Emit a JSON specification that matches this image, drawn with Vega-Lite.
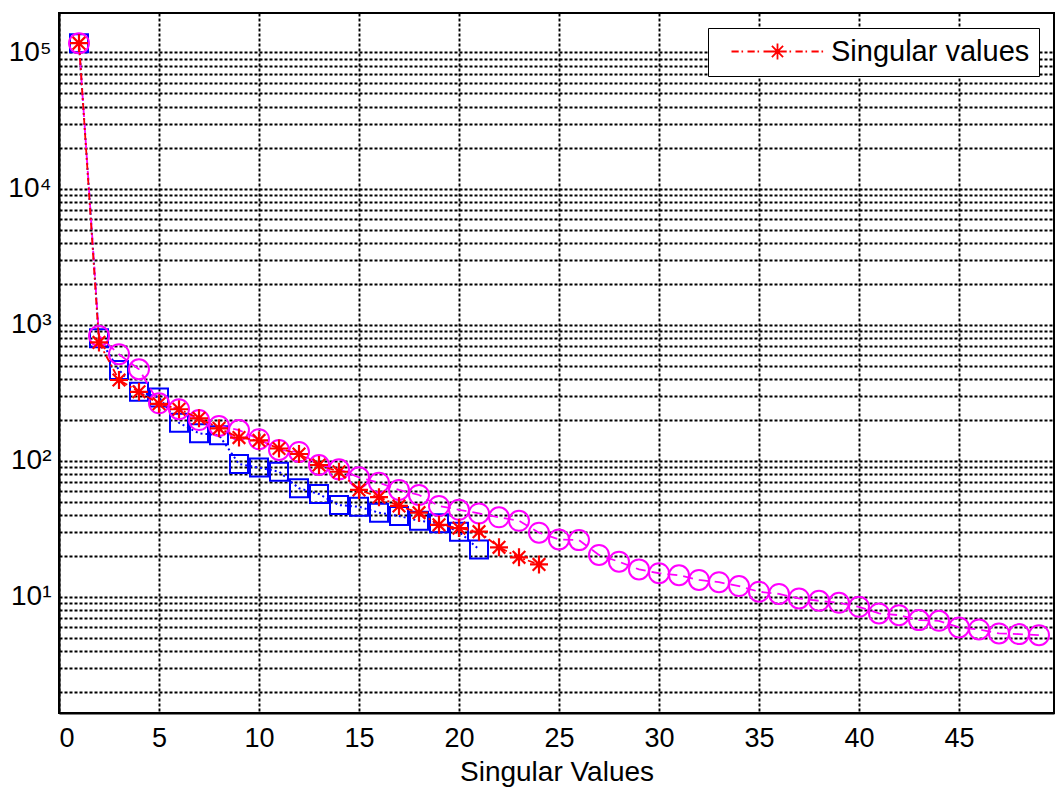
{
  "$schema": "https://vega.github.io/schema/vega-lite/v6.json",
  "width": 995,
  "height": 700,
  "autosize": {"type": "none"},
  "padding": {"left": 59, "top": 13, "right": 1, "bottom": 74},
  "background": "white",
  "config": {
    "font": "Liberation Sans",
    "view": {"stroke": "black", "strokeWidth": 2},
    "axis": {
      "gridColor": "black", "gridDash": [3, 2], "gridWidth": 1.9, "gridOpacity": 1,
      "domainColor": "black", "domainWidth": 2,
      "labelColor": "black", "labelFont": "Liberation Sans",
      "titleFont": "Liberation Sans", "titleColor": "black", "titleFontWeight": "normal"
    }
  },
  "datasets": {
    "blue": [
      {"x": 1, "y": 117000}, {"x": 2, "y": 795}, {"x": 3, "y": 464}, {"x": 4, "y": 321},
      {"x": 5, "y": 292}, {"x": 6, "y": 190}, {"x": 7, "y": 159}, {"x": 8, "y": 154},
      {"x": 9, "y": 94.6}, {"x": 10, "y": 89}, {"x": 11, "y": 83}, {"x": 12, "y": 62.7},
      {"x": 13, "y": 56.9}, {"x": 14, "y": 47.2}, {"x": 15, "y": 45.9}, {"x": 16, "y": 41.5},
      {"x": 17, "y": 39.2}, {"x": 18, "y": 36.2}, {"x": 19, "y": 34.7}, {"x": 20, "y": 30.1},
      {"x": 21, "y": 22.3}
    ],
    "magenta": [
      {"x": 1, "y": 117000}, {"x": 2, "y": 826}, {"x": 3, "y": 606}, {"x": 4, "y": 470},
      {"x": 5, "y": 264}, {"x": 6, "y": 239}, {"x": 7, "y": 199}, {"x": 8, "y": 180},
      {"x": 9, "y": 168}, {"x": 10, "y": 144}, {"x": 11, "y": 120}, {"x": 12, "y": 116},
      {"x": 13, "y": 93}, {"x": 14, "y": 86.4}, {"x": 15, "y": 75.5}, {"x": 16, "y": 68.9},
      {"x": 17, "y": 61}, {"x": 18, "y": 56}, {"x": 19, "y": 46.5}, {"x": 20, "y": 43.6},
      {"x": 21, "y": 41}, {"x": 22, "y": 38.4}, {"x": 23, "y": 36.2}, {"x": 24, "y": 29.6},
      {"x": 25, "y": 26.4}, {"x": 26, "y": 26.1}, {"x": 27, "y": 20.3}, {"x": 28, "y": 18.1},
      {"x": 29, "y": 15.9}, {"x": 30, "y": 14.9}, {"x": 31, "y": 14.4}, {"x": 32, "y": 13.3},
      {"x": 33, "y": 12.8}, {"x": 34, "y": 12.0}, {"x": 35, "y": 10.9}, {"x": 36, "y": 10.5},
      {"x": 37, "y": 9.73}, {"x": 38, "y": 9.35}, {"x": 39, "y": 9.04}, {"x": 40, "y": 8.44},
      {"x": 41, "y": 7.55}, {"x": 42, "y": 7.33}, {"x": 43, "y": 6.74}, {"x": 44, "y": 6.66},
      {"x": 45, "y": 5.96}, {"x": 46, "y": 5.76}, {"x": 47, "y": 5.38}, {"x": 48, "y": 5.32},
      {"x": 49, "y": 5.22}
    ],
    "red": [
      {"x": 1, "y": 117000, "s": "Singular values"}, {"x": 2, "y": 740, "s": "Singular values"},
      {"x": 3, "y": 392, "s": "Singular values"}, {"x": 4, "y": 321, "s": "Singular values"},
      {"x": 5, "y": 262, "s": "Singular values"}, {"x": 6, "y": 239, "s": "Singular values"},
      {"x": 7, "y": 205, "s": "Singular values"}, {"x": 8, "y": 173, "s": "Singular values"},
      {"x": 9, "y": 148, "s": "Singular values"}, {"x": 10, "y": 141, "s": "Singular values"},
      {"x": 11, "y": 123, "s": "Singular values"}, {"x": 12, "y": 112, "s": "Singular values"},
      {"x": 13, "y": 93, "s": "Singular values"}, {"x": 14, "y": 83, "s": "Singular values"},
      {"x": 15, "y": 61, "s": "Singular values"}, {"x": 16, "y": 54, "s": "Singular values"},
      {"x": 17, "y": 46.5, "s": "Singular values"}, {"x": 18, "y": 41.5, "s": "Singular values"},
      {"x": 19, "y": 33.8, "s": "Singular values"}, {"x": 20, "y": 32, "s": "Singular values"},
      {"x": 21, "y": 30.1, "s": "Singular values"}, {"x": 22, "y": 23.1, "s": "Singular values"},
      {"x": 23, "y": 19.5, "s": "Singular values"}, {"x": 24, "y": 17.3, "s": "Singular values"}
    ]
  },
  "layer": [
    {
      "data": {"name": "blue"},
      "mark": {"type": "line", "color": "#0000ff", "strokeDash": [2, 3], "strokeWidth": 2, "clip": true},
      "encoding": {
        "x": {
          "field": "x", "type": "quantitative",
          "scale": {"domain": [0, 49.75], "nice": false, "zero": false},
          "axis": {
            "values": [0, 5, 10, 15, 20, 25, 30, 35, 40, 45],
            "grid": true, "ticks": false, "labelFontSize": 27, "labelPadding": 12,
            "title": "Singular Values", "titleFontSize": 28, "titlePadding": 7,
            "labelOverlap": false, "labelBound": false
          }
        },
        "y": {
          "field": "y", "type": "quantitative",
          "scale": {"type": "log", "domain": [1.4, 195000], "nice": false},
          "axis": {
            "values": [2, 3, 4, 5, 6, 7, 8, 9, 10, 20, 30, 40, 50, 60, 70, 80, 90, 100, 200, 300, 400, 500, 600, 700, 800, 900, 1000, 2000, 3000, 4000, 5000, 6000, 7000, 8000, 9000, 10000, 20000, 30000, 40000, 50000, 60000, 70000, 80000, 90000, 100000],
            "labelExpr": "abs(log(datum.value)/LN10 - round(log(datum.value)/LN10)) < 0.001 ? '10' + ['⁰','¹','²','³','⁴','⁵','⁶'][round(log(datum.value)/LN10)] : ''",
            "grid": true, "ticks": false, "labelFontSize": 28, "labelPadding": 8, "labelDy": 3,
            "title": null, "labelOverlap": false, "labelBound": false
          }
        }
      }
    },
    {
      "data": {"name": "blue"},
      "mark": {"type": "point", "shape": "square", "size": 324, "filled": false, "color": "#0000ff", "strokeWidth": 2, "opacity": 1, "clip": true},
      "encoding": {"x": {"field": "x", "type": "quantitative"}, "y": {"field": "y", "type": "quantitative"}}
    },
    {
      "data": {"name": "magenta"},
      "mark": {"type": "line", "color": "#ff00ff", "strokeDash": [10, 6], "strokeWidth": 1.8, "clip": true},
      "encoding": {"x": {"field": "x", "type": "quantitative"}, "y": {"field": "y", "type": "quantitative"}}
    },
    {
      "data": {"name": "magenta"},
      "mark": {"type": "point", "shape": "circle", "size": 400, "filled": false, "color": "#ff00ff", "strokeWidth": 2, "opacity": 1, "clip": true},
      "encoding": {"x": {"field": "x", "type": "quantitative"}, "y": {"field": "y", "type": "quantitative"}}
    },
    {
      "data": {"name": "red"},
      "mark": {"type": "line", "color": "#ff0000", "strokeDash": [7, 3, 2, 3], "strokeWidth": 1.8, "clip": true},
      "encoding": {"x": {"field": "x", "type": "quantitative"}, "y": {"field": "y", "type": "quantitative"}}
    },
    {
      "data": {"name": "red"},
      "mark": {"type": "point", "shape": "M-1,0L1,0M0,-1L0,1M-0.7,-0.7L0.7,0.7M-0.7,0.7L0.7,-0.7", "size": 324, "filled": false, "strokeWidth": 2.2, "opacity": 1, "clip": true},
      "encoding": {
        "x": {"field": "x", "type": "quantitative"},
        "y": {"field": "y", "type": "quantitative"},
        "color": {
          "field": "s", "type": "nominal",
          "scale": {"domain": ["Singular values"], "range": ["#ff0000"]},
          "legend": {
            "title": null, "orient": "none", "legendX": 649, "legendY": 15,
            "symbolType": "M-5.75,0L-4.85,0M-4.5,0L-4.3,0M-3.75,0L-2.85,0M-2.5,0L-2.3,0M-1.75,0L-0.85,0M0.25,0L1.15,0M1.5,0L1.7,0M2.25,0L3.15,0M3.5,0L3.7,0M4.25,0L5.15,0M5.5,0L5.7,0M-1,0L1,0M0,-1L0,1M-0.7,-0.7L0.7,0.7M-0.7,0.7L0.7,-0.7",
            "symbolSize": 256, "symbolStrokeWidth": 1.8, "symbolStrokeColor": "#ff0000", "symbolFillColor": "transparent",
            "symbolOffset": 46, "labelOffset": 39,
            "labelFontSize": 29, "labelFont": "Liberation Sans", "labelColor": "black", "labelLimit": 400,
            "strokeColor": "black", "fillColor": "white", "padding": 9, "cornerRadius": 0,
            "encode": {"legend": {"update": {"strokeWidth": {"value": 2}}}}
          }
        }
      }
    }
  ]
}
